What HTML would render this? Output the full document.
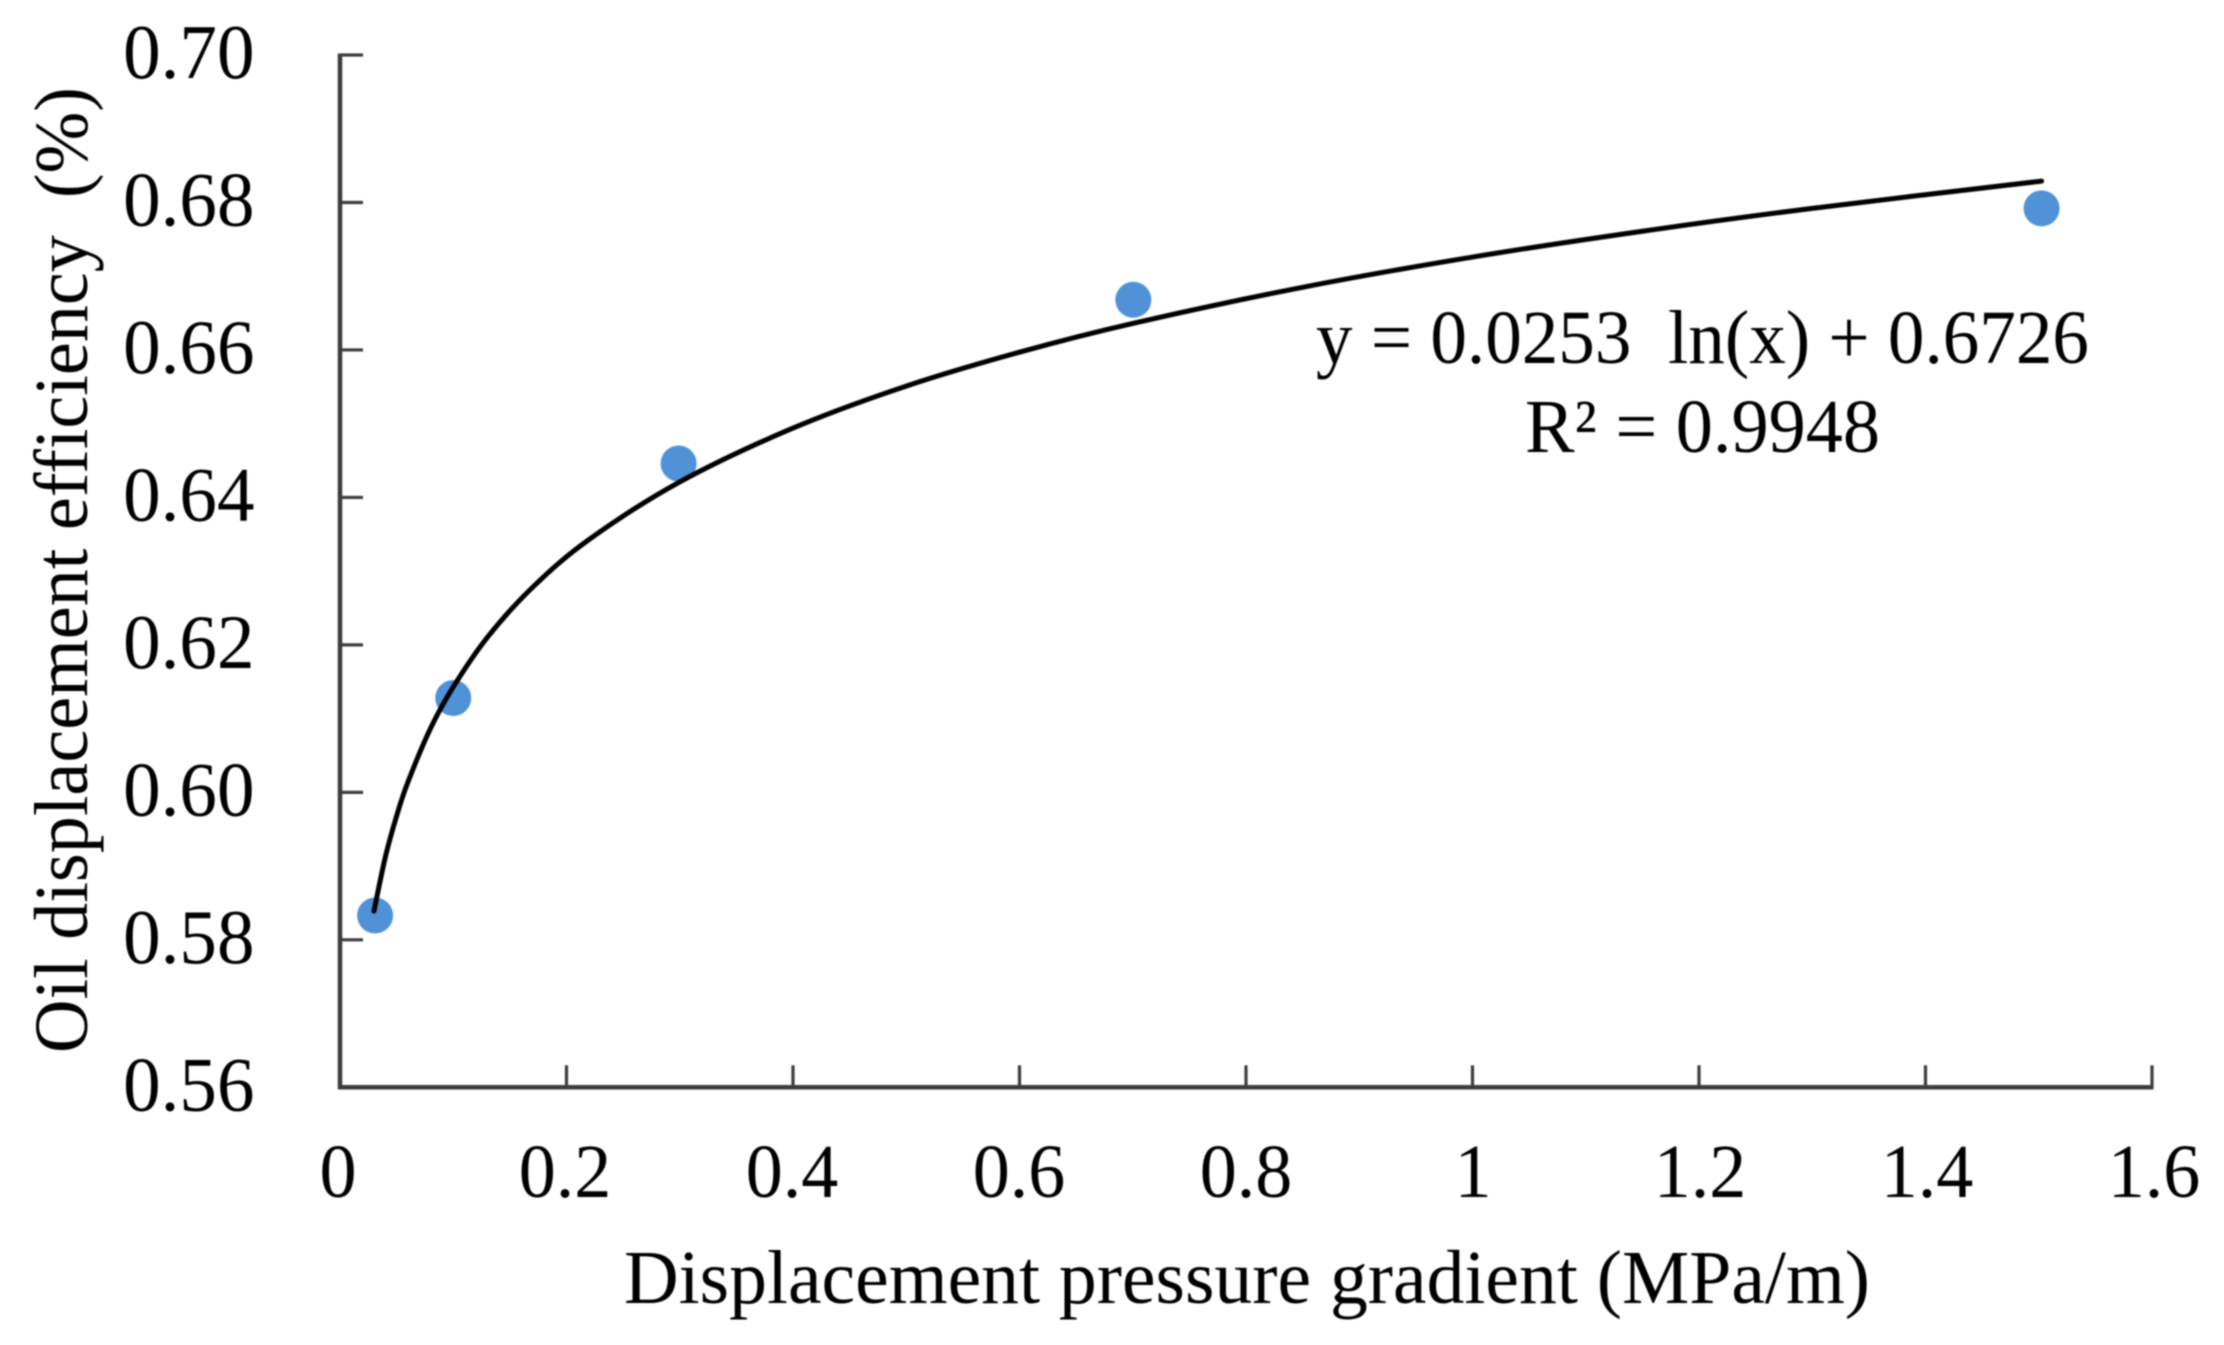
<!DOCTYPE html>
<html lang="en">
<head>
<meta charset="utf-8">
<title>Oil displacement efficiency vs displacement pressure gradient</title>
<style>
html,body{margin:0;padding:0;background:#fff;}
body{width:2224px;height:1345px;overflow:hidden;}
svg{display:block;filter:blur(0.7px);}
text{font-family:"Liberation Serif",serif;fill:#000;}
</style>
</head>
<body>
<svg id="chart" xmlns="http://www.w3.org/2000/svg" width="2224" height="1345" viewBox="0 0 2224 1345">
  <rect x="0" y="0" width="2224" height="1345" fill="#ffffff"/>
  <g id="axes"></g>
  <g id="points"></g>
  <g id="trend"></g>
  <text x="624" y="1303" font-size="76" textLength="1246" lengthAdjust="spacingAndGlyphs">Displacement pressure gradient (MPa/m)</text>
  <text transform="translate(87,1053) rotate(-90)" font-size="76" textLength="966" lengthAdjust="spacingAndGlyphs">Oil displacement efficiency&#160;&#160;(%)</text>
  <text x="1316" y="363" font-size="76" textLength="773" lengthAdjust="spacingAndGlyphs">y = 0.0253&#160;&#160;ln(x) + 0.6726</text>
  <text x="1525" y="452" font-size="76" textLength="355" lengthAdjust="spacingAndGlyphs">R² = 0.9948</text>
</svg>
<script>
const xTickLabels = ['0','0.2','0.4','0.6','0.8','1','1.2','1.4','1.6'];
const yTickLabels = ['0.56','0.58','0.60','0.62','0.64','0.66','0.68','0.70'];
const pointX = [0.031,0.1,0.299,0.7005,1.5025];
const pointY = [0.5833,0.6128,0.6446,0.6668,0.6792];
const trendX = [0.03,0.04,0.05,0.06,0.08,0.1,0.13,0.17,0.22,0.3,0.4,0.5,0.6,0.7,0.85,1,1.15,1.3,1.5025];
const trendY = [0.5839,0.5912,0.5968,0.6014,0.6087,0.6143,0.6210,0.6278,0.6343,0.6421,0.6494,0.6551,0.6597,0.6636,0.6685,0.6726,0.6761,0.6792,0.6829];

const NS = 'http://www.w3.org/2000/svg';
const plotLeft = 340, plotRight = 2152, plotTop = 55, plotBottom = 1087.3;
const xMin = 0, xMax = 1.6, yMin = 0.56, yMax = 0.70;
const sx = v => plotLeft + (v - xMin) / (xMax - xMin) * (plotRight - plotLeft);
const sy = v => plotBottom - (v - yMin) / (yMax - yMin) * (plotBottom - plotTop);
const labelX = v => 338 + v * 1135;
const axes = document.getElementById('axes');
const points = document.getElementById('points');
const trend = document.getElementById('trend');

function line(x1, y1, x2, y2, w) {
  const el = document.createElementNS(NS, 'line');
  el.setAttribute('x1', x1);
  el.setAttribute('y1', y1);
  el.setAttribute('x2', x2);
  el.setAttribute('y2', y2);
  el.setAttribute('stroke', '#3c3c3c');
  el.setAttribute('stroke-width', w);
  return el;
}

const yAxis = line(plotLeft, plotTop - 1.5, plotLeft, plotBottom + 2, 4.5);


axes.appendChild(yAxis);

const xAxis = line(plotLeft - 2, plotBottom, plotRight + 1.5, plotBottom, 4.5);


axes.appendChild(xAxis);

yTickLabels.forEach(label => {
  const y = sy(parseFloat(label));
  const tick = line(plotLeft, y, plotLeft + 23, y, 3.2);
  
  
  axes.appendChild(tick);
  const t = document.createElementNS(NS, 'text');
  
  
  t.setAttribute('transform', 'translate(254.5,' + (y + 23) + ') scale(0.975,1)');
  t.setAttribute('text-anchor', 'end');
  t.setAttribute('font-size', '77');
  t.textContent = label;
  axes.appendChild(t);
});

xTickLabels.forEach(label => {
  const v = parseFloat(label);
  const x = sx(v);
  const tick = line(x, plotBottom - 22, x, plotBottom, 3.2);
  
  
  axes.appendChild(tick);
  const t = document.createElementNS(NS, 'text');
  
  
  t.setAttribute('transform', 'translate(' + labelX(v) + ',1197) scale(0.975,1)');
  t.setAttribute('text-anchor', 'middle');
  t.setAttribute('font-size', '76');
  t.textContent = label;
  axes.appendChild(t);
});

pointX.forEach((px, i) => {
  const c = document.createElementNS(NS, 'circle');
  
  
  c.setAttribute('cx', sx(px));
  c.setAttribute('cy', sy(pointY[i]));
  c.setAttribute('r', 18);
  c.setAttribute('fill', '#4f92d8');
  points.appendChild(c);
});

// Catmull-Rom smoothing through the values
const pts = trendX.map((v, i) => [sx(v), sy(trendY[i])]);
let d = 'M' + pts[0][0] + ' ' + pts[0][1];
for (let i = 0; i < pts.length - 1; i++) {
  const p0 = pts[Math.max(i - 1, 0)], p1 = pts[i], p2 = pts[i + 1], p3 = pts[Math.min(i + 2, pts.length - 1)];
  d += ' C' + (p1[0] + (p2[0] - p0[0]) / 6) + ' ' + (p1[1] + (p2[1] - p0[1]) / 6) + ' ' +
       (p2[0] - (p3[0] - p1[0]) / 6) + ' ' + (p2[1] - (p3[1] - p1[1]) / 6) + ' ' + p2[0] + ' ' + p2[1];
}
const trendPath = document.createElementNS(NS, 'path');


trendPath.setAttribute('d', d);
trendPath.setAttribute('fill', 'none');
trendPath.setAttribute('stroke', '#000000');
trendPath.setAttribute('stroke-width', '5');
trendPath.setAttribute('stroke-linecap', 'round');
trend.appendChild(trendPath);
</script>
</body>
</html>
